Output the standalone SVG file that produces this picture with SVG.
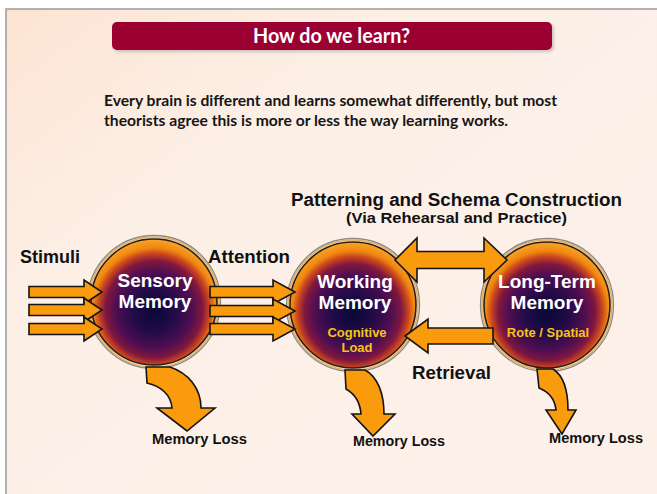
<svg xmlns="http://www.w3.org/2000/svg" width="657" height="494" viewBox="0 0 657 494">
  <defs>
    <linearGradient id="slideBg" x1="0" y1="0" x2="1" y2="1">
      <stop offset="0" stop-color="#fde4d3"/>
      <stop offset="0.3" stop-color="#fcefe6"/>
      <stop offset="1" stop-color="#fcf1ea"/>
    </linearGradient>
    <radialGradient id="memGlow" cx="0.5" cy="0.55" r="0.55" fx="0.5" fy="0.58">
      <stop offset="0" stop-color="#0a0836"/>
      <stop offset="0.3" stop-color="#220b48"/>
      <stop offset="0.55" stop-color="#4e0e52"/>
      <stop offset="0.7" stop-color="#80173f"/>
      <stop offset="0.8" stop-color="#c9441f"/>
      <stop offset="0.88" stop-color="#f0870f"/>
      <stop offset="1" stop-color="#f8a52a"/>
    </radialGradient>
    <filter id="soft" x="-10%" y="-30%" width="120%" height="160%">
      <feGaussianBlur stdDeviation="1.5"/>
    </filter>
  </defs>
  <style>
    .arrow { fill: #f99b0c; stroke: #141414; stroke-width: 1.6; stroke-linejoin: miter; }
    .lbl { font-family: "Liberation Sans", Arial, sans-serif; font-weight: bold; fill: #111; }
    .inner { font-family: "Liberation Sans", Arial, sans-serif; font-weight: bold; fill: #ffffff; font-size: 19px; text-anchor: middle; }
    .sub { font-family: "Liberation Sans", Arial, sans-serif; font-weight: bold; fill: #f6c31c; font-size: 13px; text-anchor: middle; }
    .body { font-family: Lato, "Liberation Sans", sans-serif; font-weight: bold; fill: #161616; font-size: 16px; }
    .core { fill: url(#memGlow); stroke: #2b1d12; stroke-width: 1.6; }
    .rim2 { fill: none; stroke: #e0b068; stroke-width: 1.6; }
    .rim3 { fill: none; stroke: #8c8884; stroke-width: 1.3; }
  </style>

  <!-- page and slide -->
  <rect x="0" y="0" width="657" height="494" fill="#ffffff"/>
  <rect x="6" y="9" width="660" height="495" fill="url(#slideBg)" stroke="#9c9a98" stroke-width="1.5"/>

  <!-- heading -->
  <g id="title">
    <rect x="114" y="24" width="440" height="28" rx="5" fill="#000" opacity="0.18" filter="url(#soft)"/>
    <rect x="112" y="22" width="440" height="28" rx="5" fill="#9a0032"/>
    <text x="253" y="43" font-family="Lato, 'Liberation Sans', sans-serif" font-weight="bold" font-size="20" fill="#ffffff" textLength="157" lengthAdjust="spacingAndGlyphs">How do we learn?</text>
  </g>

  <g id="intro">
    <text class="body" x="104" y="106" textLength="453" lengthAdjust="spacingAndGlyphs">Every brain is different and learns somewhat differently, but most</text>
    <text class="body" x="104" y="126" textLength="404" lengthAdjust="spacingAndGlyphs">theorists agree this is more or less the way learning works.</text>
  </g>

  <!-- memory stores -->
  <g id="sensory-memory">
    <circle cx="154" cy="302" r="66.5" class="rim3"/>
    <circle cx="154" cy="302" r="65" class="rim2"/>
    <circle cx="154" cy="302" r="63" class="core"/>
    <text class="inner" x="155" y="287">Sensory</text>
    <text class="inner" x="155" y="308">Memory</text>
  </g>

  <g id="working-memory">
    <circle cx="353" cy="305" r="66.5" class="rim3"/>
    <circle cx="353" cy="305" r="65" class="rim2"/>
    <circle cx="353" cy="305" r="63" class="core"/>
    <text class="inner" x="355" y="288">Working</text>
    <text class="inner" x="355" y="309">Memory</text>
    <text class="sub" x="357" y="337">Cognitive</text>
    <text class="sub" x="357" y="352">Load</text>
  </g>

  <g id="long-term-memory">
    <circle cx="547" cy="305" r="66.5" class="rim3"/>
    <circle cx="547" cy="305" r="65" class="rim2"/>
    <circle cx="547" cy="305" r="63" class="core"/>
    <text class="inner" x="547" y="288">Long-Term</text>
    <text class="inner" x="547" y="309">Memory</text>
    <text class="sub" x="548" y="337">Rote / Spatial</text>
  </g>

  <!-- connectors -->
  <g id="connectors">
    <!-- stimuli into sensory memory -->
    <path class="arrow" d="M29,286.5 H84 V280 L102,292 L84,304 V297.5 H29 Z"/>
    <path class="arrow" d="M29,304.5 H84 V298 L102,310 L84,322 V315.5 H29 Z"/>
    <path class="arrow" d="M29,323.5 H84 V317 L102,329 L84,341 V334.5 H29 Z"/>
    <!-- attention: sensory to working -->
    <path class="arrow" d="M210,286.5 H273 V280 L295,292 L273,304 V297.5 H210 Z"/>
    <path class="arrow" d="M210,305.5 H273 V299 L295,311 L273,323 V316.5 H210 Z"/>
    <path class="arrow" d="M210,323.5 H273 V317 L295,329 L273,341 V334.5 H210 Z"/>
    <!-- patterning: working <-> long-term -->
    <path class="arrow" d="M395,260 L417,238 V251.5 H484 V238 L507,260 L484,282 V268.5 H417 V282 Z"/>
    <!-- retrieval: long-term to working -->
    <path class="arrow" d="M405,336 L428,319 V328 H493 V344 H428 V353 Z"/>
    <!-- memory loss -->
    <path class="arrow" d="M146,367 L170,367 C188,373 201,388 201,408 L215,408 L187,431 L157,408 L172,408 C171,395 161,386 147,383 Z"/>
    <path class="arrow" d="M345,370 L365,370 C378,377 384,394 384,414 L395,414 L373,436 L352,414 L361,414 C360,402 355,394 346,389 Z"/>
    <path class="arrow" d="M537,369 L553,369 C564,376 568,392 568,410 L576,410 L562,434 L546,410 L556,410 C555,400 549,392 539,388 Z"/>
  </g>

  <!-- flow labels -->
  <g id="labels">
    <text class="lbl" x="20" y="263" font-size="18">Stimuli</text>
    <text class="lbl" x="208" y="263" font-size="18" textLength="82" lengthAdjust="spacingAndGlyphs">Attention</text>
    <text class="lbl" x="291" y="206" font-size="18" textLength="331" lengthAdjust="spacingAndGlyphs">Patterning  and Schema Construction</text>
    <text class="lbl" x="346" y="223" font-size="15" textLength="221" lengthAdjust="spacingAndGlyphs">(Via Rehearsal  and Practice)</text>
    <text class="lbl" x="412" y="379" font-size="18.5" textLength="79" lengthAdjust="spacingAndGlyphs">Retrieval</text>
    <text class="lbl" x="152" y="444" font-size="14.5" textLength="95" lengthAdjust="spacingAndGlyphs">Memory Loss</text>
    <text class="lbl" x="353" y="446" font-size="14.5" textLength="92" lengthAdjust="spacingAndGlyphs">Memory Loss</text>
    <text class="lbl" x="549" y="443" font-size="14.5" textLength="94" lengthAdjust="spacingAndGlyphs">Memory Loss</text>
  </g>
</svg>
